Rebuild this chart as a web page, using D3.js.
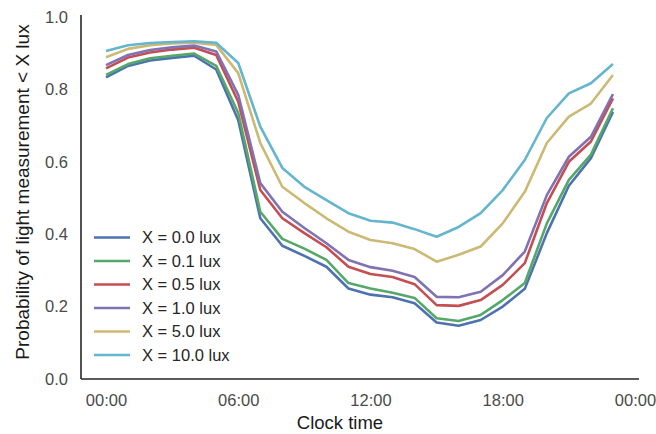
<!DOCTYPE html>
<html><head><meta charset="utf-8">
<script src="https://cdn.jsdelivr.net/npm/d3@7"></script>
<style>
html,body{margin:0;padding:0;background:#fff;}
svg{display:block;font-family:"Liberation Sans",Arial,sans-serif;}
</style></head>
<body><svg id="chart" width="656" height="434"></svg>
<script>
const hours = d3.range(0, 24);
const seriesNames = ["X = 0.0 lux","X = 0.1 lux","X = 0.5 lux","X = 1.0 lux","X = 5.0 lux","X = 10.0 lux"];
const colors = ["#4C72B0","#55A868","#C44E52","#8172B2","#CCB974","#64B5CD"];
const lux0  = [0.833,0.865,0.880,0.887,0.893,0.855,0.715,0.444,0.368,0.340,0.310,0.250,0.233,0.226,0.209,0.156,0.147,0.163,0.200,0.249,0.403,0.534,0.610,0.738];
const lux01 = [0.840,0.870,0.886,0.893,0.899,0.865,0.735,0.462,0.387,0.360,0.329,0.265,0.250,0.238,0.224,0.168,0.160,0.177,0.218,0.265,0.430,0.550,0.620,0.748];
const lux05 = [0.858,0.888,0.902,0.910,0.915,0.895,0.766,0.522,0.444,0.403,0.364,0.310,0.290,0.282,0.262,0.204,0.202,0.218,0.260,0.320,0.486,0.600,0.656,0.775];
const lux1  = [0.867,0.895,0.909,0.916,0.921,0.905,0.785,0.541,0.462,0.417,0.375,0.329,0.309,0.299,0.282,0.227,0.226,0.241,0.287,0.352,0.508,0.614,0.669,0.787];
const lux5  = [0.889,0.912,0.922,0.927,0.929,0.923,0.845,0.652,0.531,0.486,0.444,0.407,0.384,0.375,0.359,0.324,0.343,0.366,0.430,0.517,0.652,0.725,0.761,0.840];
const lux10 = [0.906,0.922,0.928,0.931,0.933,0.929,0.873,0.697,0.583,0.531,0.494,0.458,0.437,0.432,0.414,0.393,0.420,0.458,0.522,0.605,0.721,0.789,0.817,0.870];
const series = [lux0, lux01, lux05, lux1, lux5, lux10];
const xTicks = [0, 6, 12, 18, 24];
const xTickLabels = ["00:00","06:00","12:00","18:00","00:00"];
const yTicks = [0, 0.2, 0.4, 0.6, 0.8, 1.0];

const svg = d3.select("#chart");
const x = d3.scaleLinear().domain([0, 24]).range([106, 635]);
const y = d3.scaleLinear().domain([0, 1]).range([379, 17]);
const axisColor = "#262626", tickColor = "#4a4a4a";

const xAxis = d3.axisBottom(x).tickValues(xTicks).tickFormat((d,i)=>xTickLabels[i]).tickSize(0).tickPadding(15);
const gx = svg.append("g").attr("transform","translate(0,379)").call(xAxis);
gx.select(".domain").remove();
gx.selectAll("text").attr("fill",tickColor).style("font-size","16.5px");
svg.append("line").attr("x1",81).attr("x2",639).attr("y1",379).attr("y2",379)
  .attr("stroke",axisColor).attr("stroke-width",1.6);

const yAxis = d3.axisLeft(y).tickValues(yTicks).tickFormat(d3.format(".1f")).tickSize(0).tickPadding(0);
const gy = svg.append("g").attr("transform","translate(68,0)").call(yAxis);
gy.select(".domain").remove();
gy.selectAll("text").attr("fill",tickColor).style("font-size","16.5px");
svg.append("line").attr("x1",81).attr("x2",81).attr("y1",15).attr("y2",379)
  .attr("stroke",axisColor).attr("stroke-width",1.6);

const line = d3.line().x((d,i)=>x(hours[i])).y(d=>y(d));
series.forEach((s,k)=>{
  svg.append("path").datum(s).attr("d",line).attr("fill","none")
    .attr("stroke",colors[k]).attr("stroke-width",2.6).attr("stroke-linejoin","round");
});

const lg = svg.append("g");
seriesNames.forEach((n,k)=>{
  const yy = 237.5 + k*23.5;
  lg.append("line").attr("x1",94).attr("x2",130).attr("y1",yy).attr("y2",yy)
    .attr("stroke",colors[k]).attr("stroke-width",2.6);
  lg.append("text").attr("x",142).attr("y",yy).attr("dy","0.36em")
    .attr("fill","#262626").style("font-size","16.5px").text(n);
});

svg.append("text").attr("x",340).attr("y",429).attr("text-anchor","middle")
  .attr("fill","#1a1a1a").style("font-size","18.5px").text("Clock time");
svg.append("text").attr("transform","translate(29,192) rotate(-90)").attr("text-anchor","middle")
  .attr("fill","#1a1a1a").style("font-size","19px").text("Probability of light measurement < X lux");
</script></body></html>
